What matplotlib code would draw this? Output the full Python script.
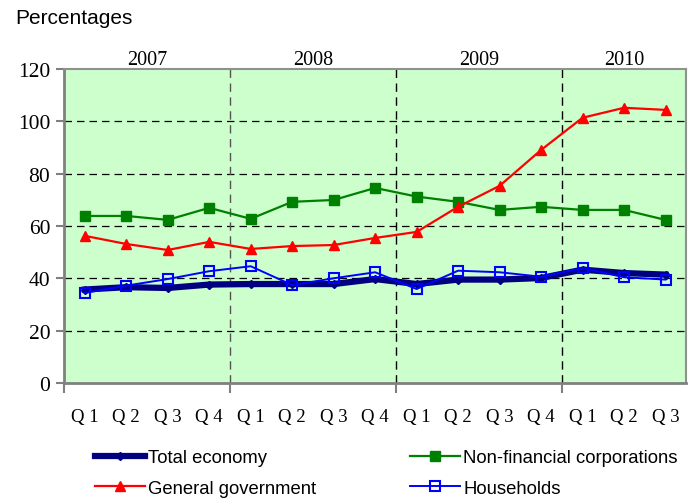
import numpy as np
import matplotlib.pyplot as plt

# Данные (проценты)
quarters = ['Q 1', 'Q 2', 'Q 3', 'Q 4'] * 3 + ['Q 1', 'Q 2', 'Q 3']
years = ['2007', '2008', '2009', '2010']
total_economy = [35.7, 36.6, 36.3, 37.6, 37.8, 37.8, 37.8, 39.7,
                 37.8, 39.5, 39.5, 40.1, 43.3, 42.0, 41.4]
non_financial = [63.8, 63.8, 62.3, 66.9, 62.7, 69.2, 69.9, 74.5,
                 71.2, 69.2, 66.1, 67.3, 66.1, 66.1, 62.3]
general_gov = [56.2, 53.1, 50.8, 53.9, 51.2, 52.3, 52.7, 55.4,
               57.7, 67.3, 75.3, 89.0, 101.3, 105.1, 104.3]
households = [34.4, 37.2, 39.7, 42.7, 44.6, 37.4, 40.0, 42.3,
              35.9, 42.9, 42.3, 40.6, 43.9, 40.4, 39.5]

x = np.arange(len(quarters))

fig = plt.figure(figsize=(6.96, 5.02), dpi=100)
ax = fig.add_axes([0.092, 0.235, 0.894, 0.626])
ax.set_facecolor('#CCFFCC')

serif = 'Liberation Serif'
sans = 'Liberation Sans'

# Сетка
for yv in [20, 40, 60, 80, 100]:
    ax.axhline(yv, color='black', lw=0.9, ls=(0, (6, 4)), zorder=1)
for i, xb in enumerate([3.5, 7.5, 11.5]):
    ax.axvline(xb, color='#555555' if i == 0 else 'black', lw=1.0,
               ls=(0, (6, 4)), zorder=1)

# Линии
l_tot, = ax.plot(x, total_economy, color='#000080', lw=4.5, marker='D',
                 markersize=4, zorder=3)
l_nf, = ax.plot(x, non_financial, color='#008000', lw=1.6, marker='s',
                markersize=6.5, zorder=3)
l_gg, = ax.plot(x, general_gov, color='#FF0000', lw=1.6, marker='^',
                markersize=7, zorder=3)
l_hh, = ax.plot(x, households, color='#0000FF', lw=1.4, marker='s',
                markersize=6.5, markerfacecolor='none', markeredgewidth=1.5,
                zorder=4)

ax.set_xlim(-0.5, 14.5)
ax.set_ylim(0, 120)
ax.set_yticks(np.arange(0, 121, 20))
ax.set_yticklabels([str(v) for v in range(0, 121, 20)], fontfamily=serif,
                   fontsize=15.5)

ax.set_xticks([-0.5, 3.5, 7.5, 11.5])
ax.set_xticklabels([])
ax.set_xticks(x, minor=True)
ax.set_xticklabels(quarters, minor=True, fontfamily=serif, fontsize=13.5)
ax.tick_params(axis='x', which='major', length=7, width=1.5, color='#808080')
ax.tick_params(axis='x', which='minor', length=0, pad=18)
ax.tick_params(axis='y', length=6, width=1.5, color='#808080', pad=4)

for s in ['left', 'bottom']:
    ax.spines[s].set_color('#808080')
    ax.spines[s].set_linewidth(2)
for s in ['top', 'right']:
    ax.spines[s].set_color('#909090')
    ax.spines[s].set_linewidth(1.5)

# Подписи годов
for i, yr in enumerate(years):
    start = i * 4 - 0.5
    end = min(start + 4, 14.5)
    ax.text((start + end) / 2, 122, yr, ha='center', va='baseline',
            fontfamily=serif, fontsize=14.5)

fig.text(0.022, 0.963, 'Percentages', ha='left', va='center',
         fontfamily=sans, fontsize=15)

fig.legend([l_tot, l_gg, l_nf, l_hh],
           ['Total economy', 'General government',
            'Non-financial corporations', 'Households'],
           ncol=2, loc='center', bbox_to_anchor=(0.555, 0.056),
           frameon=False, prop={'family': sans, 'size': 13.3},
           handlelength=2.7, handletextpad=0.16, columnspacing=5.1,
           labelspacing=0.73)

fig.savefig('out.png', dpi=100)
